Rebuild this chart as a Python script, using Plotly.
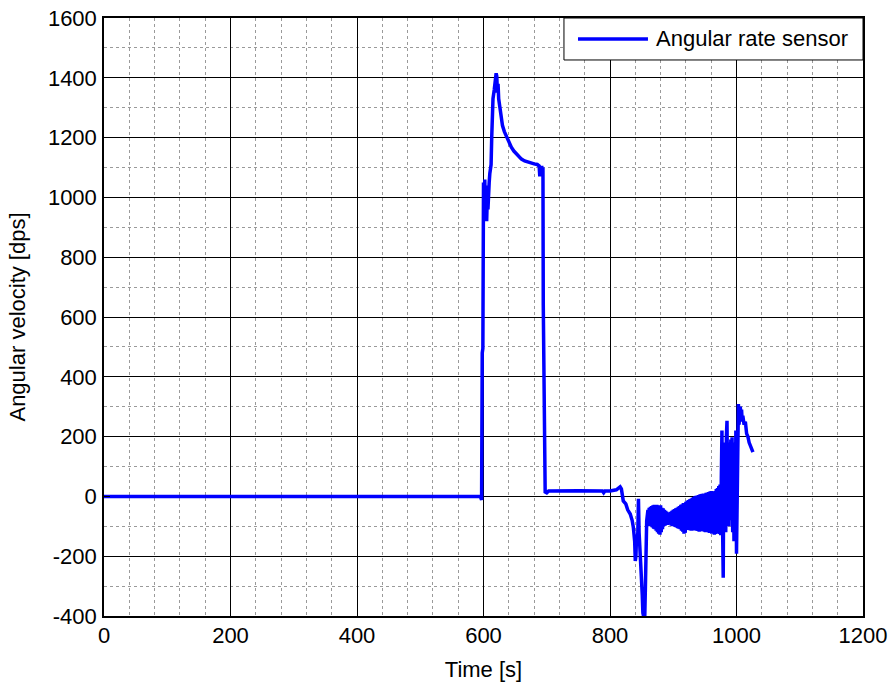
import plotly.graph_objects as go

# ---- data ----
t_rise = [0, 595, 597, 597.5, 598, 599, 599.5, 600, 601, 602, 603, 604, 605, 606, 607, 608, 609, 610,
          611, 612, 613, 614, 615, 617, 619, 620, 621, 622, 623, 624, 626, 628, 630, 633, 636, 640,
          644, 648, 652, 656, 660, 665, 670, 675, 680, 685, 688, 689, 690, 691, 692, 693, 694,
          694.5, 695, 697.5, 700, 703, 750, 788, 790, 792, 800, 810, 816, 818, 821, 825, 828, 832,
          835, 837, 839, 840, 841, 842, 843, 844, 845, 846, 847, 848, 850, 851, 852, 853, 854, 855,
          856, 857, 858]
v_rise = [0, 0, -12, 440, 480, 495, 940, 1050, 930, 1060, 950, 1040, 920, 1000, 960, 1040, 1050, 1080,
          1100, 1110, 1200, 1290, 1330, 1360, 1400, 1415, 1405, 1350, 1380, 1330, 1300, 1270, 1240, 1220, 1205, 1185,
          1168, 1155, 1145, 1135, 1128, 1122, 1118, 1115, 1112, 1110, 1105, 1070, 1100, 1080, 1105, 1090, 1100,
          640, 520, 15, 12, 18, 19, 18, 12, 18, 18, 22, 32, 25, -15, -25, -45, -59,
          -80, -105, -150, -216, -200, -130, -160, -120, -8, -120, -160, -200, -250, -330, -390, -400, -320, -400,
          -300, -150, -82]

t_band = [860, 861, 862, 863, 864, 865, 866, 867, 868, 869, 870, 871, 872, 873, 874, 875, 876, 877,
          878, 879, 880, 881, 882, 883, 884, 885, 886, 887, 888, 889, 890, 891, 892, 893, 894, 895,
          896, 897, 898, 899, 900, 901, 902, 903, 904, 905, 906, 907, 908, 909, 910, 911, 912, 913,
          914, 915, 916, 917, 918, 919, 920, 921, 922, 923, 924, 925, 926, 927, 928, 929, 930, 931,
          932, 933, 934, 935, 936, 937, 938, 939, 940, 941, 942, 943, 944, 945, 946, 947, 948, 949,
          950, 951, 952, 953, 954, 955, 956, 957, 958, 959, 960, 961, 962, 963, 964, 965, 966, 967,
          968, 969, 970, 971, 972, 973, 974]
v_band = [-45, -95, -38, -100, -35, -98, -32, -104, -30, -108, -28, -110, -30, -115, -28, -120, -30, -125,
          -32, -128, -30, -120, -38, -110, -40, -100, -45, -98, -48, -95, -52, -95, -55, -92, -55, -94,
          -52, -98, -48, -100, -45, -100, -42, -102, -40, -104, -38, -106, -35, -108, -32, -110, -28, -115,
          -26, -118, -22, -125, -22, -122, -18, -110, -15, -112, -12, -112, -10, -114, -8, -115, -5, -114,
          -2, -112, 0, -114, 2, -115, 3, -116, 5, -118, 6, -117, 8, -115, 9, -116, 10, -118,
          10, -120, 12, -118, 13, -119, 15, -122, 16, -121, 18, -125, 16, -124, 15, -128, 18, -126,
          25, -122, 28, -120, 35, -126, 40]

t_tail = [975, 976, 977, 978, 979, 980, 981, 982, 983, 984, 985, 986, 987, 988, 989, 990, 991, 992,
          993, 994, 995, 996, 997, 998, 999, 1000, 1001, 1002, 1003, 1004, 1005, 1006, 1007, 1008,
          1009, 1010, 1012, 1014, 1016, 1018, 1020, 1022, 1024, 1026]
v_tail = [-130, 60, 220, -100, -272, 180, -80, 150, -120, 200, 253, -60, 180, -100, 150, -50, 190, -80,
          198, -120, 170, -150, 180, -100, 220, -192, 100, 250, 309, 240, 280, 300, 260, 290,
          250, 270, 240, 250, 210, 200, 180, 170, 155, 148]

time_s = t_rise + t_band + t_tail
omega = v_rise + v_band + v_tail

series_name = "Angular rate sensor"
x_ticks = [0, 200, 400, 600, 800, 1000, 1200]
y_ticks = [-400, -200, 0, 200, 400, 600, 800, 1000, 1200, 1400, 1600]

FONT = "Liberation Sans, Arial, sans-serif"
FS = 22

fig = go.Figure()
fig.add_trace(go.Scatter(x=time_s, y=omega, mode="lines", name=series_name,
                         line=dict(color="#0000FF", width=3.5), showlegend=False))

axis_common = dict(
    showline=True, linecolor="black", linewidth=1.5, mirror="ticks",
    ticks="inside", ticklen=6, tickcolor="black", tickwidth=1,
    showgrid=True, gridcolor="black", gridwidth=1, zeroline=False, automargin=False,
    ticklabeloverflow="allow",
    tickfont=dict(family=FONT, size=FS, color="black"),
)

fig.update_xaxes(range=[0, 1200], tickvals=x_ticks, ticktext=[str(v) for v in x_ticks],
                 ticklabelstandoff=-1,
                 minor=dict(dtick=40, tick0=0, showgrid=True, gridcolor="#9a9a9a", griddash="dot", gridwidth=1),
                 title=dict(text="Time [s]", font=dict(family=FONT, size=FS, color="black"), standoff=14),
                 **axis_common)
fig.update_yaxes(range=[-400, 1600], tickvals=y_ticks, ticktext=[str(v) for v in y_ticks],
                 ticklabelstandoff=1,
                 minor=dict(dtick=100, tick0=0, showgrid=True, gridcolor="#9a9a9a", griddash="dot", gridwidth=1),
                 title=dict(text="Angular velocity [dps]", font=dict(family=FONT, size=FS, color="black"), standoff=16),
                 **axis_common)

# manual MATLAB-style legend box
fig.add_shape(type="rect", xref="paper", yref="paper", x0=0.606, x1=1.0, y0=0.9298, y1=1.0,
              line=dict(color="black", width=1), fillcolor="white", layer="above")
fig.add_shape(type="line", xref="paper", yref="paper", x0=0.6245, x1=0.7167, y0=0.9649, y1=0.9649,
              line=dict(color="#0000FF", width=3.5), layer="above")
fig.add_annotation(xref="paper", yref="paper", x=0.724, y=0.9649, xanchor="left", yanchor="middle",
                   text=series_name, showarrow=False, font=dict(family=FONT, size=FS, color="black"))

fig.update_layout(width=894, height=686, margin=dict(l=104, r=31, t=18, b=70),
                  paper_bgcolor="white", plot_bgcolor="white", showlegend=False)

# remove the page's default body margin so the figure sits at the window origin
fig.write_html("out.html", config={"displayModeBar": False},
               post_script="document.body.style.margin='0';document.body.style.overflow='hidden';")
